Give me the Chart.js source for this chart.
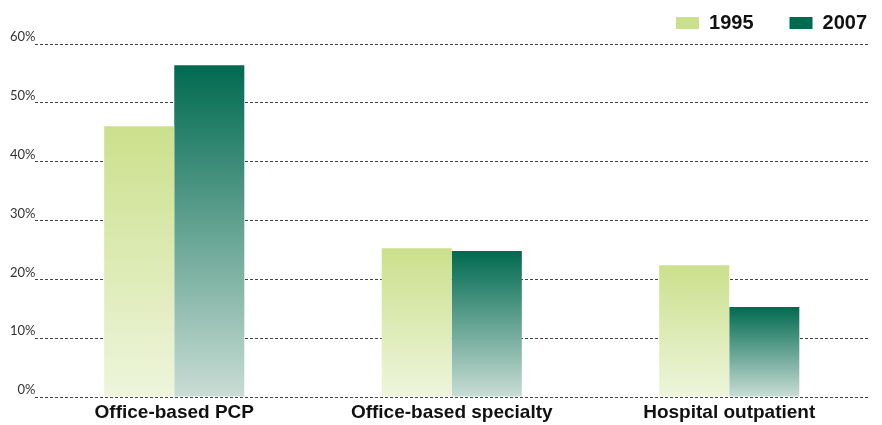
<!DOCTYPE html>
<html>
<head>
<meta charset="utf-8">
<script src="https://cdn.jsdelivr.net/npm/chart.js@4/dist/chart.umd.min.js"></script>
<style>
  body { margin: 0; background: #fff; }
  #wrap { width: 882px; height: 425px; position: relative; }
</style>
</head>
<body>
<div id="wrap"><canvas id="chart"></canvas></div>
<script>
// chart data
const categories = ['Office-based PCP', 'Office-based specialty', 'Hospital outpatient'];
const seriesNames = ['1995', '2007'];
const values1995 = [46.0, 25.3, 22.4];
const values2007 = [56.4, 24.8, 15.3];
const yTicks = [0, 10, 20, 30, 40, 50, 60];

// top / bottom colours of each series' vertical gradient
const colors1995 = ['#cbe08c', '#eef5dc'];
const colors2007 = ['#006a50', '#c9ddd5'];

// gradient runs from the top of each bar down to the zero line
function barGradient(stops) {
  return function (ctx) {
    const chart = ctx.chart;
    if (!chart.chartArea || ctx.raw === undefined) return stops[0];
    const y = chart.scales.y;
    const top = y.getPixelForValue(ctx.raw);
    const bottom = y.getPixelForValue(0);
    const g = chart.ctx.createLinearGradient(0, top, 0, bottom);
    g.addColorStop(0, stops[0]);
    g.addColorStop(1, stops[1]);
    return g;
  };
}

// legend: fixed band height, then nudge it up and to the right edge
const legendPlacement = {
  id: 'legendPlacement',
  beforeLayout(chart) {
    const lg = chart.legend;
    if (!lg || lg._fixedFit) return;
    const fit = lg.fit;
    lg.fit = function () {
      fit.call(this);
      this.height = 44;
    };
    lg._fixedFit = true;
  },
  afterLayout(chart) {
    const lg = chart.legend;
    if (!lg) return;
    lg.top -= 23;
    lg.right += 35;
  }
};

new Chart(document.getElementById('chart'), {
  type: 'bar',
  data: {
    labels: categories,
    datasets: [
      { label: seriesNames[0], data: values1995, backgroundColor: barGradient(colors1995), borderWidth: 0 },
      { label: seriesNames[1], data: values2007, backgroundColor: barGradient(colors2007), borderWidth: 0 }
    ]
  },
  options: {
    responsive: true,
    maintainAspectRatio: false,
    animation: false,
    categoryPercentage: 0.505,
    barPercentage: 1.0,
    layout: { padding: { left: 10, right: 14, top: 0, bottom: 0 } },
    plugins: {
      tooltip: { enabled: false },
      legend: {
        position: 'top',
        align: 'end',
        labels: {
          boxWidth: 23,
          boxHeight: 12,
          padding: 36,
          color: '#111',
          font: { family: 'Liberation Sans', size: 20, weight: 'bold' },
          generateLabels: () => [
            { text: seriesNames[0], fillStyle: colors1995[0], strokeStyle: colors1995[0], lineWidth: 0, fontColor: '#111', hidden: false, datasetIndex: 0 },
            { text: seriesNames[1], fillStyle: colors2007[0], strokeStyle: colors2007[0], lineWidth: 0, fontColor: '#111', hidden: false, datasetIndex: 1 }
          ]
        }
      }
    },
    scales: {
      x: {
        afterFit: (scale) => { scale.height = 28; },
        grid: { display: false, drawTicks: false },
        border: { display: false },
        ticks: {
          color: '#111',
          padding: 4,
          font: { family: 'Liberation Sans', size: 19, weight: 'bold' }
        }
      },
      y: {
        min: 0,
        max: 60,
        afterBuildTicks: (scale) => { scale.ticks = yTicks.map(v => ({ value: v })); },
        border: { display: false, dash: [3, 2] },
        grid: {
          color: '#444',
          lineWidth: 1,
          drawTicks: false
        },
        ticks: {
          color: '#333',
          padding: 0,
          labelOffset: -7,
          font: { family: 'Lato', size: 13 },
          callback: (v) => v + '%'
        }
      }
    }
  },
  plugins: [legendPlacement]
});
</script>
</body>
</html>
